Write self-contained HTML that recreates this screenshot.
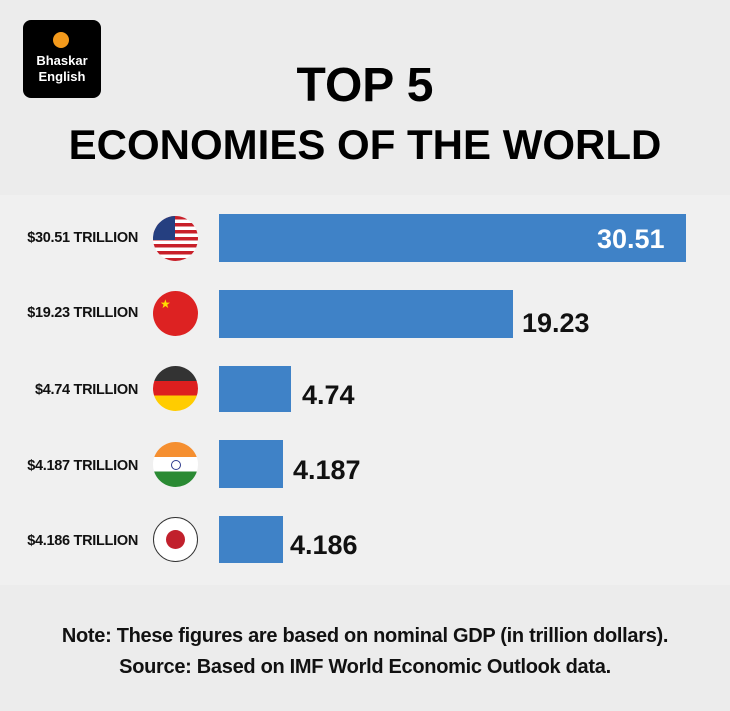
<!DOCTYPE html>
<html><head><meta charset="utf-8"><style>
body{margin:0;width:730px;height:711px;overflow:hidden;background:#ececec;font-family:"Liberation Sans",sans-serif;position:relative}
.a{position:absolute}
.t{font-weight:bold;color:#000;text-align:center;width:730px;left:0}
.bar{position:absolute;left:219px;background:#3f82c7}
.lab{position:absolute;left:0;width:138px;text-align:right;font-weight:bold;font-size:14.5px;color:#111;letter-spacing:-0.3px}
.val{position:absolute;font-weight:bold;font-size:27px;color:#111}
.flag{position:absolute;left:153px;width:45px;height:45px;border-radius:50%;overflow:hidden}
</style></head><body>
<div class="a" style="left:0;top:195px;width:730px;height:390px;background:#f0f0f0"></div>
<div class="a" style="left:23px;top:20px;width:78px;height:78px;background:#000;border-radius:8px"></div>
<div class="a" style="left:53px;top:32px;width:16px;height:16px;border-radius:50%;background:#f39a1c"></div>
<div class="a" style="left:23px;top:53px;width:78px;text-align:center;color:#fff;font-weight:bold;font-size:13px;line-height:16px">Bhaskar<br>English</div>
<div class="a t" style="top:58px;font-size:48px;line-height:56px">TOP 5</div>
<div class="a t" style="top:119px;font-size:42px;line-height:52px">ECONOMIES OF THE WORLD</div>

<div class="lab" style="top:230px">$30.51 TRILLION</div>
<div class="flag" style="top:216px;background:repeating-linear-gradient(#c8202a 0 3.5px,#fff 3.5px 7px)"><div style="width:22px;height:24px;background:#253f80"></div></div>
<div class="bar" style="top:214px;width:467px;height:48px"></div>
<div class="val" style="left:597px;top:224px;color:#fff">30.51</div>

<div class="lab" style="top:305px">$19.23 TRILLION</div>
<div class="flag" style="top:291px;background:#dd2222;color:#fd0;font-size:12px;line-height:14px"><span style="position:absolute;left:7px;top:6px">★</span></div>
<div class="bar" style="top:290px;width:294px;height:48px"></div>
<div class="val" style="left:522px;top:308px">19.23</div>

<div class="lab" style="top:382px">$4.74 TRILLION</div>
<div class="flag" style="top:366px;background:linear-gradient(#333 0 33%,#dd1f1f 33% 66%,#ffcc00 66%)"></div>
<div class="bar" style="top:366px;width:72px;height:46px"></div>
<div class="val" style="left:302px;top:380px">4.74</div>

<div class="lab" style="top:458px">$4.187 TRILLION</div>
<div class="flag" style="top:442px;background:linear-gradient(#f58f30 0 33%,#fff 33% 66%,#2a8a33 66%)"><div style="position:absolute;left:18px;top:18px;width:8px;height:8px;border:1px solid #2d3a8c;border-radius:50%"></div></div>
<div class="bar" style="top:440px;width:64px;height:48px"></div>
<div class="val" style="left:293px;top:455px">4.187</div>

<div class="lab" style="top:533px">$4.186 TRILLION</div>
<div class="flag" style="top:517px;background:#fff;border:1.5px solid #333;box-sizing:border-box"><div style="position:absolute;left:12px;top:12px;width:19px;height:19px;border-radius:50%;background:#c1202c"></div></div>
<div class="bar" style="top:516px;width:64px;height:47px"></div>
<div class="val" style="left:290px;top:530px">4.186</div>

<div class="a t" style="top:624px;font-size:20px;line-height:24px;font-weight:bold;color:#111;letter-spacing:-0.3px">Note: These figures are based on nominal GDP (in trillion dollars).</div>
<div class="a t" style="top:655px;font-size:20px;line-height:24px;font-weight:bold;color:#111;letter-spacing:-0.3px">Source: Based on IMF World Economic Outlook data.</div>
</body></html>
